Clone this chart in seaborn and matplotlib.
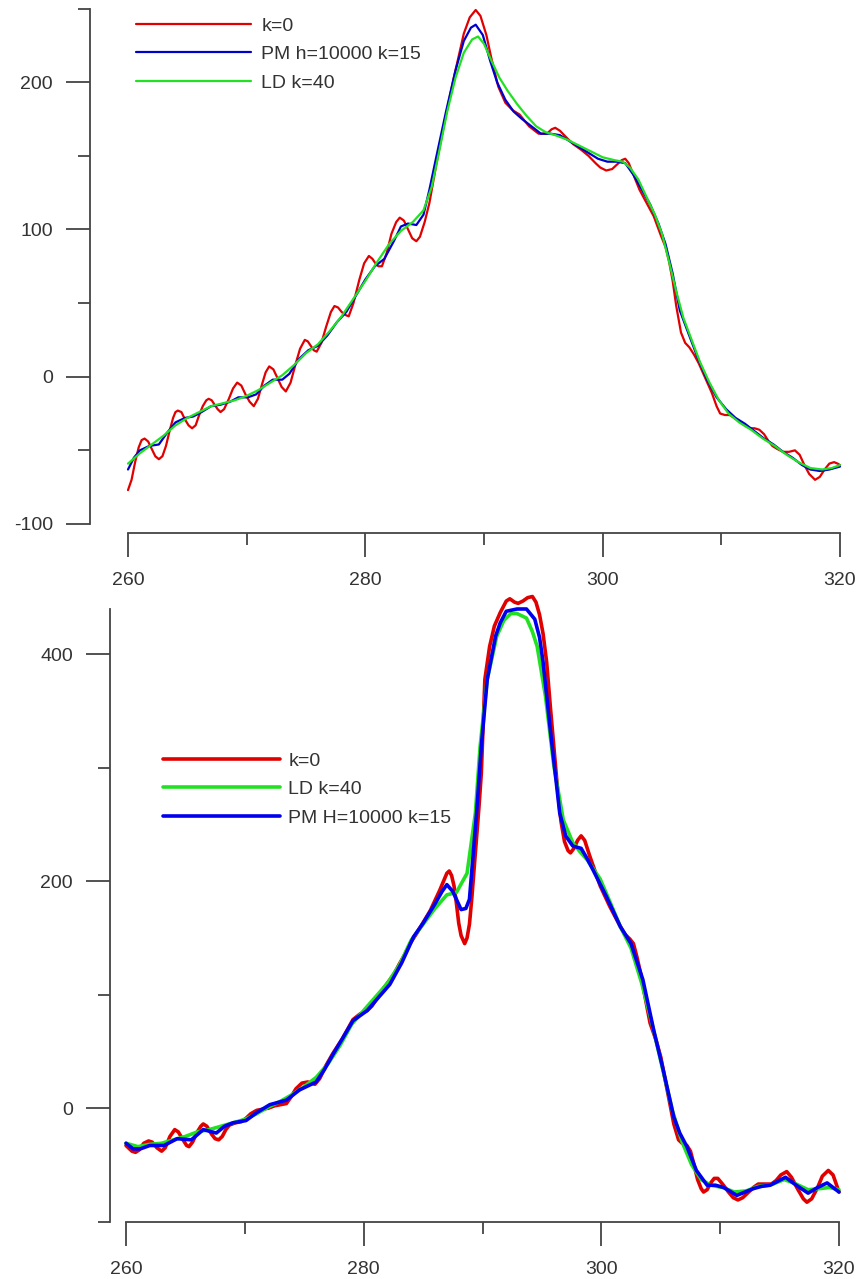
import numpy as np
import pandas as pd
import matplotlib
matplotlib.use("Agg")
import matplotlib.pyplot as plt
from matplotlib.ticker import MultipleLocator
import seaborn as sns

# ---------------- Top panel data ----------------
top_red_x = [260.0, 260.3, 260.6, 260.9, 261.15, 261.4, 261.7, 262.0, 262.3, 262.6, 262.9, 263.2,
             263.5, 263.8, 264.0, 264.2, 264.5, 264.8, 265.1, 265.4, 265.7, 266.0, 266.3, 266.6,
             266.8, 267.05, 267.3, 267.55, 267.8, 268.1, 268.5, 268.85, 269.2, 269.55, 269.9, 270.25,
             270.6, 270.95, 271.3, 271.6, 271.9, 272.25, 272.6, 272.95, 273.3, 273.7, 274.1, 274.5,
             274.9, 275.15, 275.4, 275.65, 275.9, 276.3, 276.7, 277.1, 277.4, 277.7, 278.0, 278.3,
             278.6, 279.0, 279.5, 279.9, 280.3, 280.6, 280.85, 281.1, 281.4, 281.8, 282.2, 282.6,
             282.9, 283.25, 283.6, 283.95, 284.3, 284.6, 285.0, 285.4, 286.0, 286.7, 287.4, 288.3,
             288.8, 289.3, 289.7, 290.2, 290.6, 291.2, 291.8, 292.4, 293.0, 293.8, 294.6, 295.3,
             295.7, 296.0, 296.4, 297.0, 297.5, 298.2, 298.8, 299.4, 299.8, 300.3, 300.8, 301.2,
             301.6, 301.9, 302.2, 302.5, 303.1, 303.7, 304.3, 304.9, 305.3, 305.6, 305.9, 306.2,
             306.6, 306.95, 307.3, 307.7, 308.1, 308.7, 309.2, 309.6, 309.9, 310.3, 310.7, 311.1,
             311.5, 311.95, 312.4, 312.8, 313.2, 313.6, 314.0, 314.3, 314.7, 315.2, 315.7, 316.2,
             316.6, 317.0, 317.4, 317.9, 318.3, 318.7, 319.1, 319.5, 319.8, 320.0]
top_red_y = [-77, -70, -58, -48, -43, -42, -44, -49, -54, -56, -54, -47,
             -37, -28, -24, -23, -24, -29, -33, -35, -33, -26, -20, -16,
             -15, -16, -19, -22, -24, -22, -15, -8, -4, -6, -12, -17,
             -20, -15, -5, 3, 7, 5, -1, -7, -10, -4, 8, 19,
             25, 24, 21, 18, 17, 23, 34, 44, 48, 47, 44, 42,
             41, 50, 66, 77, 82, 80, 77, 75, 75, 84, 97, 105,
             108, 106, 100, 94, 92, 95, 105, 118, 145, 174, 201, 233,
             244, 249, 245, 232, 217, 197, 186, 181, 178, 170, 165, 165,
             168, 169, 167, 162, 158, 154, 150, 145, 142, 140, 141, 144,
             147, 148, 145, 139, 127, 118, 109, 96, 88, 78, 65, 48,
             30, 23, 20, 15, 9, -2, -11, -20, -25, -26, -26, -28,
             -30, -33, -35, -35, -36, -39, -44, -47, -49, -51, -51, -50,
             -53, -60, -66, -70, -68, -63, -59, -58, -59, -60]

top_blue_x = [260.0, 260.5, 261.0, 261.8, 262.6, 263.3, 264.0, 264.8, 265.5, 266.2, 267.0, 267.8,
              268.6, 269.3, 270.1, 270.8, 271.5, 272.2, 273.0, 273.6, 274.4, 275.2, 276.0, 276.8,
              277.6, 278.4, 279.2, 280.0, 280.8, 281.6, 282.4, 283.0, 283.6, 284.3, 284.9, 285.4,
              286.0, 286.8, 287.6, 288.3, 288.9, 289.3, 289.9, 290.5, 291.1, 291.8, 292.5, 293.2,
              294.0, 294.8, 295.6, 296.4, 297.2, 298.0, 298.8, 299.6, 300.4, 301.2, 301.9, 302.6,
              303.3, 304.0, 304.7, 305.3, 305.9, 306.5, 307.2, 308.0, 308.8, 309.6, 310.4, 311.2,
              312.0, 312.8, 313.6, 314.4, 315.2, 316.0, 316.8, 317.5, 318.3, 319.1, 320.0]
top_blue_y = [-63, -55, -50, -47, -46, -38, -31, -28, -27, -24, -20, -19,
              -17, -14, -14, -12, -6, -2, -2, 2, 12, 18, 21, 28,
              37, 44, 55, 66, 75, 80, 92, 102, 104, 103, 110, 127,
              150, 180, 208, 228, 237, 239, 232, 215, 200, 188, 180, 175,
              170, 165, 165, 164, 160, 156, 152, 148, 146, 146, 145, 137,
              127, 117, 104, 90, 70, 45, 30, 13, -2, -14, -22, -28,
              -32, -37, -42, -46, -51, -55, -60, -63, -64, -63, -61]

top_green_x = [260.0, 261.0, 262.0, 263.0, 264.0, 265.0, 266.0, 267.0, 268.0, 269.0, 270.0, 271.0,
               272.0, 273.0, 274.0, 275.0, 276.0, 277.0, 278.0, 279.0, 280.0, 281.0, 282.0, 283.0,
               284.0, 284.9, 285.6, 286.2, 286.9, 287.6, 288.3, 289.0, 289.5, 290.0, 290.6, 291.3,
               292.0, 292.8, 293.6, 294.4, 295.2, 296.0, 297.0, 298.0, 299.0, 300.0, 301.0, 301.7,
               302.3, 303.0, 303.7, 304.4, 305.0, 305.6, 306.2, 306.8, 307.5, 308.2, 309.0, 309.8,
               310.6, 311.5, 312.5, 313.5, 314.5, 315.5, 316.5, 317.5, 318.5, 319.3, 320.0]
top_green_y = [-59, -52, -46, -40, -33, -28, -24, -20, -18, -16, -13, -9,
               -4, 1, 8, 16, 22, 31, 41, 53, 65, 78, 90, 99,
               105, 113, 129, 152, 180, 203, 220, 229, 231, 226, 215, 203,
               194, 185, 177, 170, 166, 164, 161, 157, 153, 149, 147, 146,
               142, 134, 122, 110, 97, 78, 58, 40, 25, 10, -4, -16,
               -25, -31, -36, -42, -47, -53, -58, -62, -63, -62, -60]

top_labels = ["k=0", "PM h=10000 k=15", "LD k=40"]

# ---------------- Bottom panel data ----------------
bot_red_x = [260.0, 260.2, 260.5, 260.8, 261.1, 261.5, 261.9, 262.2, 262.6, 263.0, 263.3, 263.7,
             264.1, 264.4, 264.8, 265.1, 265.3, 265.6, 266.0, 266.3, 266.5, 266.8, 267.2, 267.5,
             267.8, 268.1, 268.4, 268.7, 269.2, 269.7, 270.1, 270.5, 271.0, 271.5, 272.0, 272.5,
             273.0, 273.5, 273.9, 274.3, 274.8, 275.3, 275.9, 276.3, 276.8, 277.4, 278.2, 279.1,
             279.7, 280.3, 280.7, 281.2, 281.7, 282.2, 282.6, 283.0, 283.5, 283.9, 284.4, 284.8,
             285.2, 285.6, 286.0, 286.4, 286.8, 287.0, 287.2, 287.4, 287.6, 287.8, 288.0, 288.2,
             288.5, 288.7, 288.9, 289.1, 289.4, 289.7, 289.9, 290.2, 290.6, 291.0, 291.5, 292.0,
             292.3, 292.7, 293.0, 293.4, 293.8, 294.2, 294.5, 294.8, 295.1, 295.4, 295.7, 296.0,
             296.3, 296.6, 296.9, 297.2, 297.4, 297.7, 298.0, 298.3, 298.6, 299.0, 299.5, 299.9,
             300.3, 300.7, 301.2, 301.6, 302.0, 302.4, 302.7, 303.0, 303.3, 303.7, 304.1, 304.6,
             305.0, 305.5, 305.8, 306.1, 306.5, 306.8, 307.2, 307.5, 307.8, 308.1, 308.4, 308.6,
             308.9, 309.2, 309.5, 309.8, 310.2, 310.7, 311.1, 311.5, 311.9, 312.3, 312.8, 313.2,
             313.7, 314.3, 314.7, 315.1, 315.6, 316.0, 316.5, 317.0, 317.3, 317.7, 318.2, 318.6,
             319.1, 319.5, 319.8, 320.0]
bot_red_y = [-33, -35, -38, -39, -37, -31, -29, -30, -35, -38, -35, -25,
             -19, -21, -28, -33, -34, -30, -21, -16, -14, -16, -23, -27,
             -28, -25, -19, -15, -13, -12, -9, -5, -2, -1, 0, 2,
             3, 4, 10, 17, 22, 23, 21, 26, 37, 48, 61, 78,
             83, 86, 90, 98, 106, 113, 119, 127, 136, 145, 153, 160,
             167, 174, 183, 192, 202, 207, 209, 205, 196, 181, 163, 152,
             145, 150, 162, 185, 225, 265, 295, 378, 407, 425, 437, 447,
             449, 446, 445, 447, 450, 451, 446, 435, 418, 393, 355, 319,
             283, 253, 235, 227, 225, 229, 236, 240, 236, 223, 208, 196,
             187, 178, 168, 160, 153, 149, 145, 133, 119, 97, 75, 60,
             45, 18, 2, -14, -28, -31, -33, -38, -50, -63, -71, -74,
             -72, -66, -62, -62, -67, -74, -79, -81, -79, -75, -70, -67,
             -67, -67, -64, -59, -56, -61, -71, -80, -83, -80, -70, -60,
             -55, -59, -68, -74]

bot_green_x = [260.0, 261.0, 262.0, 263.0, 264.0, 265.0, 266.0, 267.0, 268.0, 269.0, 270.0, 271.0,
               272.0, 273.0, 274.0, 275.0, 276.0, 277.0, 278.0, 279.0, 280.0, 281.0, 282.0, 283.0,
               284.0, 285.0, 286.0, 287.0, 287.8, 288.7, 289.4, 289.8, 290.4, 291.2, 291.8, 292.4,
               292.9, 293.7, 294.2, 294.6, 295.3, 296.0, 296.8, 297.6, 298.2, 298.8, 299.9, 300.8,
               301.6, 302.5, 303.4, 304.3, 305.1, 306.0, 306.8, 307.6, 308.4, 309.2, 310.2, 311.2,
               312.2, 313.2, 314.2, 315.4, 316.4, 317.4, 318.4, 319.2, 320.0]
bot_green_y = [-31, -34, -32, -31, -28, -25, -21, -19, -16, -13, -10, -5,
               1, 6, 12, 19, 27, 39, 55, 74, 86, 98, 110, 126,
               148, 162, 176, 188, 190, 207, 260, 319, 378, 416, 430, 436,
               436, 432, 420, 407, 363, 302, 254, 234, 226, 219, 202, 180,
               160, 141, 110, 73, 37, -3, -30, -50, -63, -68, -70, -74,
               -73, -69, -68, -63, -67, -72, -71, -70, -72]

bot_blue_x = [260.0, 260.6, 261.2, 262.0, 262.6, 263.2, 264.3, 265.5, 266.5, 267.6, 268.3, 269.0,
              270.1, 271.0, 272.1, 273.5, 274.6, 276.0, 276.7, 277.4, 278.2, 279.1, 280.3, 281.2,
              282.2, 283.2, 284.2, 285.0, 286.0, 286.6, 287.0, 287.5, 288.2, 288.6, 288.9, 289.5,
              289.9, 290.4, 291.1, 291.5, 292.0, 292.9, 293.7, 294.4, 294.8, 295.1, 295.7, 296.5,
              297.0, 297.6, 298.3, 298.8, 299.3, 300.4, 301.6, 302.5, 303.5, 304.4, 305.2, 306.1,
              306.6, 307.2, 308.0, 308.9, 309.6, 310.3, 311.4, 312.1, 312.8, 313.5, 314.2, 315.5,
              316.4, 317.4, 318.2, 319.0, 320.0]
bot_blue_y = [-31, -36, -36, -33, -33, -33, -27, -28, -19, -22, -16, -13,
              -11, -4, 3, 7, 16, 23, 34, 47, 61, 77, 86, 97,
              109, 128, 151, 163, 180, 191, 197, 191, 175, 176, 184, 260,
              319, 378, 416, 428, 438, 440, 440, 431, 415, 393, 334, 260,
              240, 231, 229, 220, 210, 187, 160, 145, 113, 69, 34, -8,
              -22, -34, -55, -68, -68, -70, -77, -74, -71, -69, -68, -61,
              -68, -75, -70, -66, -74]

bot_labels = ["k=0", "LD k=40", "PM H=10000 k=15"]

# ---------------- Styling ----------------
sns.set_style("ticks")
plt.rcParams["font.family"] = ["Liberation Sans", "DejaVu Sans"]
plt.rcParams["axes.unicode_minus"] = False

RED = "#e00000"
BLUE = "#0000cc"
BLUE2 = "#0000ee"
GREEN = "#22e022"
TXT = "#333333"
AX = "#444444"

W, H = 859, 1279
fig = plt.figure(figsize=(W / 100, H / 100), dpi=100)
fig.patch.set_facecolor("white")


def px(v):
    return v * 72.0 / 100.0  # pixels -> points


def style_axes(ax, xoff, yoff):
    for s in ("top", "right"):
        ax.spines[s].set_visible(False)
    ax.spines["left"].set_position(("outward", px(xoff)))
    ax.spines["bottom"].set_position(("outward", px(yoff)))
    for s in ("left", "bottom"):
        ax.spines[s].set_color(AX)
        ax.spines[s].set_linewidth(1.3)
    ax.tick_params(which="major", length=px(24), width=1.3, color=AX,
                   labelsize=14, labelcolor=TXT, direction="out")
    ax.tick_params(which="minor", length=px(12), width=1.3, color=AX, direction="out")
    ax.tick_params(axis="y", which="major", pad=px(13))
    ax.tick_params(axis="x", which="major", pad=px(15))
    ax.set_xlabel("")
    ax.set_ylabel("")
    ax.set_facecolor("white")


def build_df(xs, ys, labels):
    frames = []
    for x, y, lab in zip(xs, ys, labels):
        frames.append(pd.DataFrame({"x": x, "y": y, "series": lab}))
    return pd.concat(frames, ignore_index=True)


# ---- Top axes ----
ax1 = fig.add_axes([128 / W, 1 - 524 / H, (840 - 128) / W, (524 - 8.5) / H])
df1 = build_df([top_red_x, top_blue_x, top_green_x],
               [top_red_y, top_blue_y, top_green_y], top_labels)
sns.lineplot(data=df1, x="x", y="y", hue="series", hue_order=top_labels,
             palette=[RED, BLUE, GREEN], estimator=None, sort=False,
             linewidth=1.6, ax=ax1, legend=False, clip_on=False)
ax1.set_xlim(260, 320)
ax1.set_ylim(-100, 250)
ax1.xaxis.set_major_locator(MultipleLocator(20))
ax1.xaxis.set_minor_locator(MultipleLocator(10))
ax1.yaxis.set_major_locator(MultipleLocator(100))
ax1.yaxis.set_minor_locator(MultipleLocator(50))
style_axes(ax1, 38, 9)
h1 = ax1.get_lines()[:3]
ax1.legend(h1, top_labels, loc="upper left", frameon=False, fontsize=14,
           bbox_to_anchor=(136 / W, 1 - 17 / H), bbox_transform=fig.transFigure,
           borderpad=0, borderaxespad=0, handlelength=5.9, handletextpad=0.55,
           labelspacing=0.56, labelcolor=TXT)

# ---- Bottom axes ----
ax2 = fig.add_axes([126 / W, 1 - 1221.5 / H, (839 - 126) / W, (1221.5 - 609) / H])
df2 = build_df([bot_red_x, bot_green_x, bot_blue_x],
               [bot_red_y, bot_green_y, bot_blue_y], bot_labels)
sns.lineplot(data=df2, x="x", y="y", hue="series", hue_order=bot_labels,
             palette=[RED, GREEN, BLUE2], estimator=None, sort=False,
             linewidth=2.6, ax=ax2, legend=False, clip_on=False)
ax2.set_xlim(260, 320)
ax2.set_ylim(-100, 440)
ax2.xaxis.set_major_locator(MultipleLocator(20))
ax2.xaxis.set_minor_locator(MultipleLocator(10))
ax2.yaxis.set_major_locator(MultipleLocator(200))
ax2.yaxis.set_minor_locator(MultipleLocator(100))
ax2.set_yticks([0, 200, 400])
style_axes(ax2, 16, 0)
h2 = ax2.get_lines()[:3]
ax2.legend(h2, bot_labels, loc="upper left", frameon=False, fontsize=14,
           bbox_to_anchor=(163 / W, 1 - 752 / H), bbox_transform=fig.transFigure,
           borderpad=0, borderaxespad=0, handlelength=6.0, handletextpad=0.45,
           labelspacing=0.56, labelcolor=TXT)

fig.savefig("out.png", dpi=100, facecolor="white")
